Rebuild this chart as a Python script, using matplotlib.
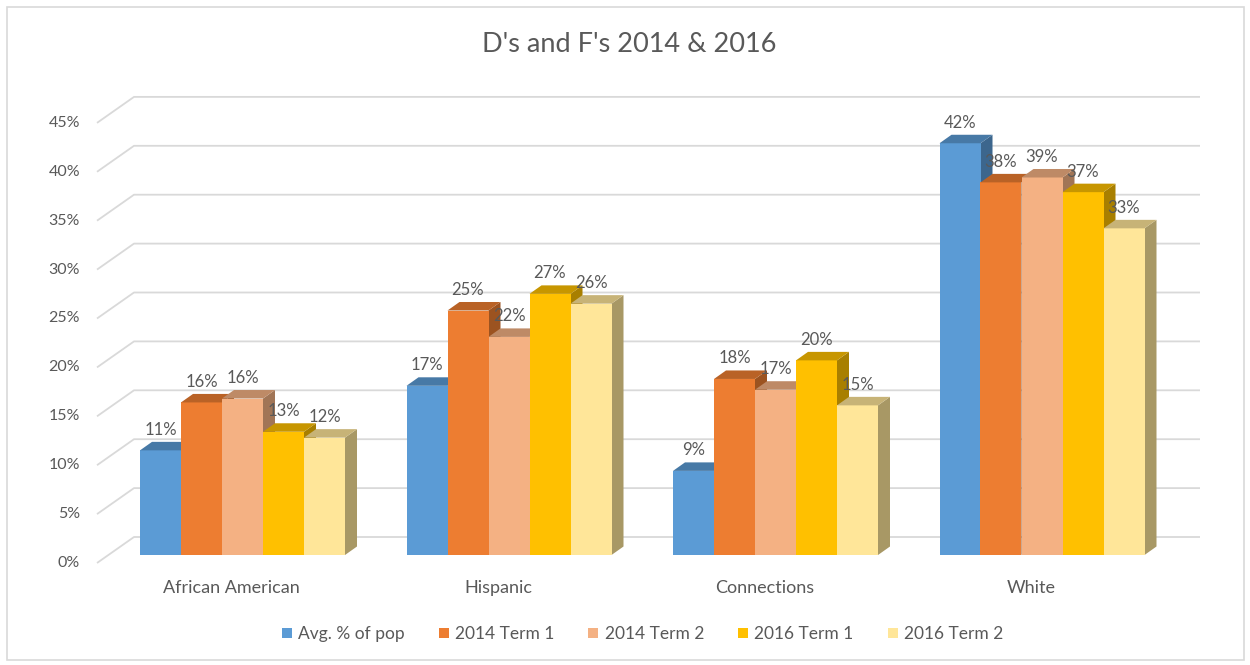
import numpy as np
import matplotlib.pyplot as plt
from matplotlib.patches import Polygon, Rectangle
from matplotlib.colors import to_rgb
from matplotlib.lines import Line2D

plt.rcParams['font.family'] = ['Lato', 'DejaVu Sans']

categories = ['African American', 'Hispanic', 'Connections', 'White']
series = ['Avg. % of pop', '2014 Term 1', '2014 Term 2', '2016 Term 1', '2016 Term 2']
avg_pop = [10.7, 17.3, 8.6, 42.1]
term_2014_1 = [15.6, 25.0, 18.0, 38.1]
term_2014_2 = [16.0, 22.3, 16.9, 38.6]
term_2016_1 = [12.6, 26.7, 19.9, 37.1]
term_2016_2 = [12.0, 25.7, 15.3, 33.4]
yticks = [0, 5, 10, 15, 20, 25, 30, 35, 40, 45]
colors = ['#5B9BD5', '#ED7D31', '#F4B183', '#FFC000', '#FFE699']

values = [avg_pop, term_2014_1, term_2014_2, term_2016_1, term_2016_2]

# figure geometry (pixels) -> data units
W, H = 1250, 665
PX_CAT = 266.5      # pixels per category step
PX_PCT = 9.78       # pixels per percent
X0, Y0 = 231.5, 563  # pixel of category 0 / 0% on the front plane
TXT = '#595959'
GRID = '#D9D9D9'


def dx(px):
    return px / PX_CAT


def dy(px):
    return px / PX_PCT


fig = plt.figure(figsize=(W / 100, H / 100), dpi=100)
ax = fig.add_axes([0, 0, 1, 1])
ax.set_xlim(-X0 / PX_CAT, (W - X0) / PX_CAT)
ax.set_ylim(-(H - Y0) / PX_PCT, Y0 / PX_PCT)
ax.axis('off')

# chart border
fig.patches.append(Rectangle((7 / W, 1 - 660 / H), 1237 / W, 653 / H,
                             transform=fig.transFigure, fill=False,
                             edgecolor=GRID, lw=1.2))

# walls: side wall lines + back wall lines
wall_front = dx(97 - X0)
wall_back = dx(134 - X0)
wall_right = dx(1200 - X0)
back_up = dy(26)
for t in yticks:
    ax.plot([wall_front, wall_back, wall_right], [t, t + back_up, t + back_up],
            color=GRID, lw=1.3, zorder=1, solid_capstyle='butt')
    ax.text(dx(80 - X0), t, f'{t}%', ha='right', va='center',
            fontsize=11.5, color=TXT)

# bars with fake 3D depth
bar_w = dx(41)
shift_x, shift_y = dx(11), dy(8)     # bars stand a little behind the front
depth_x, depth_y = dx(12), dy(8.5)   # bar depth
group_w = bar_w * len(series)

for gi, cat in enumerate(categories):
    left0 = gi - group_w / 2 + shift_x
    for si in range(len(series)):
        v = values[si][gi]
        x = left0 + si * bar_w
        z = 10 + si * 3
        rgb = np.array(to_rgb(colors[si]))
        ax.bar(x, v, width=bar_w, bottom=shift_y, align='edge',
               color=colors[si], lw=0, zorder=z)
        top = shift_y + v
        ax.add_patch(Polygon([(x, top), (x + bar_w, top),
                              (x + bar_w + depth_x, top + depth_y),
                              (x + depth_x, top + depth_y)],
                             closed=True, facecolor=rgb * 0.78, lw=0, zorder=z + 1))
        ax.add_patch(Polygon([(x + bar_w, shift_y), (x + bar_w + depth_x, shift_y + depth_y),
                              (x + bar_w + depth_x, top + depth_y), (x + bar_w, top)],
                             closed=True, facecolor=rgb * 0.66, lw=0, zorder=z - 1))
        ax.text(x + bar_w / 2, top + depth_y + dy(4), f'{v:.0f}%',
                ha='center', va='bottom', fontsize=12, color=TXT, zorder=100)
    ax.text(gi, dy(563 - 588), cat, ha='center', va='center',
            fontsize=13, color=TXT)

# title
fig.text(629 / W, 1 - 45 / H, "D's and F's 2014 & 2016", ha='center', va='center',
         fontsize=19.5, color=TXT)

handles = [Line2D([], [], marker='s', ls='none', markersize=7,
                  markerfacecolor=c, markeredgewidth=0) for c in colors]
fig.legend(handles, series, loc='center', ncol=5, frameon=False,
           bbox_to_anchor=(642 / W, 1 - 634 / H), fontsize=12.5,
           handlelength=0.7, handletextpad=0.3, columnspacing=1.9,
           labelcolor=TXT)

fig.savefig('out.png', dpi=100)
